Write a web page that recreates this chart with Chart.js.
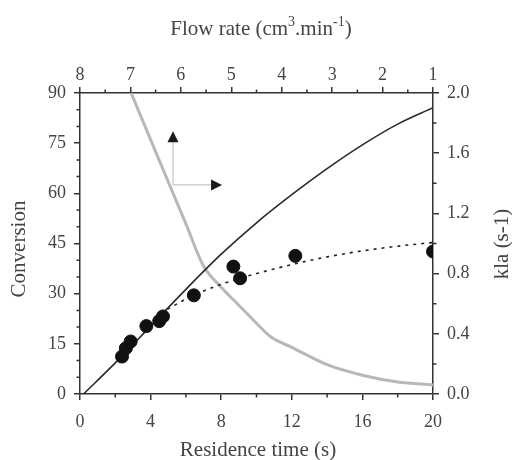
<!DOCTYPE html>
<html>
<head>
<meta charset="utf-8">
<script src="https://cdn.jsdelivr.net/npm/chart.js@4.4.1/dist/chart.umd.min.js"></script>
<style>
  html, body { margin: 0; padding: 0; background: #fff; }
  #wrap { width: 512px; height: 460px; }
</style>
</head>
<body>
<div id="wrap"><canvas id="c" width="512" height="460"></canvas></div>
<script>
// Model conversion vs residence time (solid line)
const modelTime = [0.2, 2, 4, 6, 8, 10, 12, 14, 16, 18, 20];
const modelConversion = [0, 9.3, 20.3, 31.3, 41.8, 51.2, 59.6, 67.4, 74.5, 80.7, 85.6];

// Mass-transfer coefficient kla (grey line, right axis)
const klaTime = [2.9, 4, 5, 6, 7, 8, 9, 10, 10.8, 12, 14, 16, 18, 20];
const klaValues = [2.0, 1.69, 1.41, 1.13, 0.85, 0.71, 0.59, 0.47, 0.38, 0.31, 0.195, 0.125, 0.08, 0.06];

// Fitted conversion (dashed line)
const fitTime = [4.95, 6, 7, 8, 9, 10, 11, 12, 13, 14, 16, 18, 20];
const fitConversion = [25.3, 28.4, 30.8, 32.8, 34.5, 36.0, 37.4, 38.7, 39.9, 41.0, 42.8, 44.2, 45.3];

// Measured conversion (filled circles)
const expTime = [2.38, 2.6, 2.87, 3.76, 4.49, 4.7, 6.45, 8.69, 9.07, 12.2, 20.0];
const expConversion = [11.2, 13.7, 15.7, 20.3, 21.8, 23.2, 29.5, 38.1, 34.6, 41.3, 42.6];

// Axis ticks
const timeTicks = [0, 4, 8, 12, 16, 20];
const conversionTicks = [0, 15, 30, 45, 60, 75, 90];
const klaTicks = [0.0, 0.4, 0.8, 1.2, 1.6, 2.0];
const flowTicks = [8, 7, 6, 5, 4, 3, 2, 1];

// Axis-pointer arrows, in (residence time, conversion)
const arrowOrigin = [5.27, 62.5];
const arrowUpEnd = [5.27, 78.6];
const arrowRightEnd = [8.05, 62.5];

const SERIF = '"Liberation Serif", "Times New Roman", serif';
const AXIS_COLOR = '#333';
const TEXT_COLOR = '#444';

const toPoints = (xs, ys) => xs.map((x, i) => ({ x: x, y: ys[i] }));

const tickFont = { family: SERIF, size: 18 };

function axisBase(extra) {
  return Object.assign({
    type: 'linear',
    border: { display: true, color: AXIS_COLOR, width: 1.5 },
    grid: { drawOnChartArea: false, drawTicks: true, tickLength: 6, tickColor: AXIS_COLOR, lineWidth: 1.5 },
    title: { display: false }
  }, extra);
}

// Minor ticks between major ticks, arrows and axis titles
const decorations = {
  id: 'decorations',
  afterDraw(chart) {
    const ctx = chart.ctx;
    const s = chart.scales;
    const ca = chart.chartArea;
    ctx.save();
    ctx.strokeStyle = AXIS_COLOR;
    ctx.lineWidth = 1.5;
    const minor = 3.5;
    ctx.beginPath();
    for (let i = 0; i < timeTicks.length - 1; i++) {
      const px = s.x.getPixelForValue((timeTicks[i] + timeTicks[i + 1]) / 2);
      ctx.moveTo(px, ca.bottom); ctx.lineTo(px, ca.bottom + minor);
    }
    for (let i = 0; i < flowTicks.length - 1; i++) {
      const px = s.x2.getPixelForValue((flowTicks[i] + flowTicks[i + 1]) / 2);
      ctx.moveTo(px, ca.top); ctx.lineTo(px, ca.top - minor);
    }
    for (let i = 0; i < conversionTicks.length - 1; i++) {
      for (let k = 1; k <= 2; k++) {
        const v = conversionTicks[i] + (conversionTicks[i + 1] - conversionTicks[i]) * k / 3;
        const py = s.y.getPixelForValue(v);
        ctx.moveTo(ca.left, py); ctx.lineTo(ca.left - minor, py);
      }
    }
    for (let i = 0; i < klaTicks.length - 1; i++) {
      const py = s.y2.getPixelForValue((klaTicks[i] + klaTicks[i + 1]) / 2);
      ctx.moveTo(ca.right, py); ctx.lineTo(ca.right + minor, py);
    }
    ctx.stroke();

    // Arrows pointing to the conversion (up) and kla (right) axes
    const ox = s.x.getPixelForValue(arrowOrigin[0]);
    const oy = s.y.getPixelForValue(arrowOrigin[1]);
    const uy = s.y.getPixelForValue(arrowUpEnd[1]);
    const rx = s.x.getPixelForValue(arrowRightEnd[0]);
    const head = 11, half = 5.5;
    ctx.strokeStyle = '#c8c8c8';
    ctx.lineWidth = 1.3;
    ctx.beginPath();
    ctx.moveTo(ox, oy); ctx.lineTo(ox, uy + head);
    ctx.moveTo(ox, oy); ctx.lineTo(rx - head, oy);
    ctx.stroke();
    ctx.fillStyle = '#1a1a1a';
    ctx.beginPath();
    ctx.moveTo(ox, uy); ctx.lineTo(ox - half, uy + head); ctx.lineTo(ox + half, uy + head); ctx.closePath();
    ctx.fill();
    ctx.beginPath();
    ctx.moveTo(rx, oy); ctx.lineTo(rx - head, oy - half); ctx.lineTo(rx - head, oy + half); ctx.closePath();
    ctx.fill();

    // Axis titles
    ctx.fillStyle = TEXT_COLOR;
    ctx.font = '21px ' + SERIF;
    ctx.textAlign = 'center';
    ctx.textBaseline = 'alphabetic';
    ctx.fillText('Residence time (s)', 258, 456);

    ctx.save();
    ctx.translate(25, 249);
    ctx.rotate(-Math.PI / 2);
    ctx.fillText('Conversion', 0, 0);
    ctx.restore();

    ctx.save();
    ctx.translate(508, 244);
    ctx.rotate(-Math.PI / 2);
    ctx.fillText('kla (s-1)', 0, 0);
    ctx.restore();

    // Top title with superscripts
    const parts = [
      { t: 'Flow rate (cm', sup: false },
      { t: '3', sup: true },
      { t: '.min', sup: false },
      { t: '-1', sup: true },
      { t: ')', sup: false }
    ];
    const mainFont = '21px ' + SERIF, supFont = '14px ' + SERIF;
    let total = 0;
    parts.forEach(p => { ctx.font = p.sup ? supFont : mainFont; p.w = ctx.measureText(p.t).width; total += p.w; });
    let x = 261 - total / 2;
    ctx.textAlign = 'left';
    parts.forEach(p => {
      ctx.font = p.sup ? supFont : mainFont;
      ctx.fillText(p.t, x, p.sup ? 26 : 35);
      x += p.w;
    });
    ctx.restore();
  }
};

new Chart(document.getElementById('c'), {
  type: 'scatter',
  data: {
    datasets: [
      {
        label: 'Measured conversion',
        data: toPoints(expTime, expConversion),
        xAxisID: 'x', yAxisID: 'y',
        backgroundColor: '#111', borderColor: '#111',
        pointRadius: 6.5, pointHoverRadius: 6.5, showLine: false, order: 0
      },
      {
        label: 'Model conversion',
        data: toPoints(modelTime, modelConversion),
        xAxisID: 'x', yAxisID: 'y',
        borderColor: '#2a2a2a', borderWidth: 1.6, pointRadius: 0,
        showLine: true, cubicInterpolationMode: 'monotone', order: 1
      },
      {
        label: 'Fitted conversion',
        data: toPoints(fitTime, fitConversion),
        xAxisID: 'x', yAxisID: 'y',
        borderColor: '#222', borderWidth: 1.6, borderDash: [3, 5], pointRadius: 0,
        showLine: true, cubicInterpolationMode: 'monotone', order: 2
      },
      {
        label: 'kla',
        data: toPoints(klaTime, klaValues),
        xAxisID: 'x', yAxisID: 'y2',
        borderColor: '#b8b8b8', borderWidth: 3, pointRadius: 0,
        showLine: true, cubicInterpolationMode: 'monotone', order: 3
      }
    ]
  },
  options: {
    responsive: false,
    animation: false,
    layout: { padding: 0 },
    plugins: { legend: { display: false }, tooltip: { enabled: false } },
    scales: {
      x: axisBase({
        position: 'bottom', min: 0, max: 20,
        afterBuildTicks: ax => { ax.ticks = timeTicks.map(v => ({ value: v })); },
        ticks: { color: TEXT_COLOR, font: tickFont, padding: 11, maxRotation: 0 },
        afterFit: ax => { ax.height = 66; }
      }),
      x2: axisBase({
        position: 'top', min: 1, max: 8, reverse: true,
        afterBuildTicks: ax => { ax.ticks = flowTicks.map(v => ({ value: v })); },
        ticks: { color: TEXT_COLOR, font: tickFont, padding: 1, maxRotation: 0 },
        afterFit: ax => { ax.height = 93; }
      }),
      y: axisBase({
        position: 'left', min: 0, max: 90,
        afterBuildTicks: ax => { ax.ticks = conversionTicks.map(v => ({ value: v })); },
        ticks: { color: TEXT_COLOR, font: tickFont, padding: 8 },
        afterFit: ax => { ax.width = 80; }
      }),
      y2: axisBase({
        position: 'right', min: 0, max: 2,
        afterBuildTicks: ax => { ax.ticks = klaTicks.map(v => ({ value: v })); },
        ticks: { color: TEXT_COLOR, font: tickFont, padding: 8, callback: v => Number(v).toFixed(1) },
        afterFit: ax => { ax.width = 79; }
      })
    }
  },
  plugins: [decorations]
});
</script>
</body>
</html>
